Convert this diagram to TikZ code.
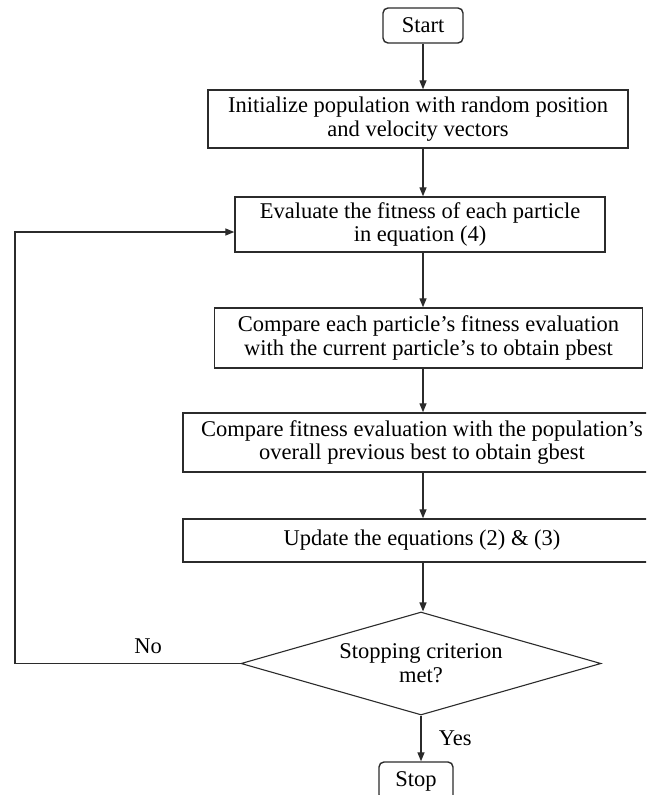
\documentclass[tikz,border=0pt]{standalone}
\usepackage{fontspec}
\setmainfont{Liberation Serif}
\usetikzlibrary{arrows.meta,shapes.geometric}
\definecolor{psoLine}{HTML}{2B2B2B}

\begin{document}
\begin{tikzpicture}[x=1pt,y=-1pt,
        proc/.style={
            draw=psoLine,
            line width=1.4pt,
            align=center,
            inner sep=0pt,
            font=\fontsize{22.5}{23.5}\selectfont
        },
        term/.style={proc, rounded corners=5pt},
        decision/.style={
            diamond,
            aspect=3.5,
            draw=psoLine,
            line width=1.1pt,
            align=center,
            inner sep=0pt,
            font=\fontsize{22.5}{24}\selectfont
        },
        arrow/.style={
            -{Triangle[length=9pt,width=7pt]},
            line width=1.3pt,
            draw=psoLine
        }
    ]
    \clip (0,0) rectangle (646,795);

    \node[term, minimum width=80, minimum height=35] (start) at (423,25.5) {Start};

    \node[proc, minimum width=420, minimum height=58] (init) at (418,119)
        {Initialize population with random position\\ and velocity vectors};

    \node[proc, minimum width=370, minimum height=55] (eval) at (420,224.5)
        {Evaluate the fitness of each particle\\ in equation (4)};

    \node[proc, minimum width=428, minimum height=60] (pbest) at (428.5,338)
        {Compare each particle’s fitness evaluation\\ with the current particle’s to obtain pbest};

    \node[proc, minimum width=478, minimum height=59] (gbest) at (422,442.5)
        {Compare fitness evaluation with the population’s\\ overall previous best to obtain gbest};

    \node[proc, minimum width=478, minimum height=43] (update) at (422,540.5)
        {Update the equations (2) \& (3)};

    \node[decision, minimum width=360, minimum height=103] (check) at (421,663.5)
        {Stopping criterion\\ met?};

    \node[term, minimum width=74, minimum height=38] (stop) at (416,781) {Stop};

    \coordinate (back) at (15,663.5);

    \draw[arrow] (start) -- (start |- init.north);
    \draw[arrow] (init.south -| start) -- (start |- eval.north);
    \draw[arrow] (eval.south -| start) -- (start |- pbest.north);
    \draw[arrow] (pbest.south -| start) -- (start |- gbest.north);
    \draw[arrow] (gbest.south -| start) -- (start |- update.north);
    \draw[arrow] (update.south -| start) -- (start |- check.north);

    \draw[arrow] (check.south) -- node[midway, right=14pt, font=\fontsize{22.5}{24}\selectfont] {Yes}
        (check.south |- stop.north);

    \draw[arrow] (check.west) -- node[pos=0.41, above=6pt, font=\fontsize{22.5}{24}\selectfont] {No}
        (back) |- ([yshift=-7.5pt]eval.west);

\end{tikzpicture}
\end{document}
